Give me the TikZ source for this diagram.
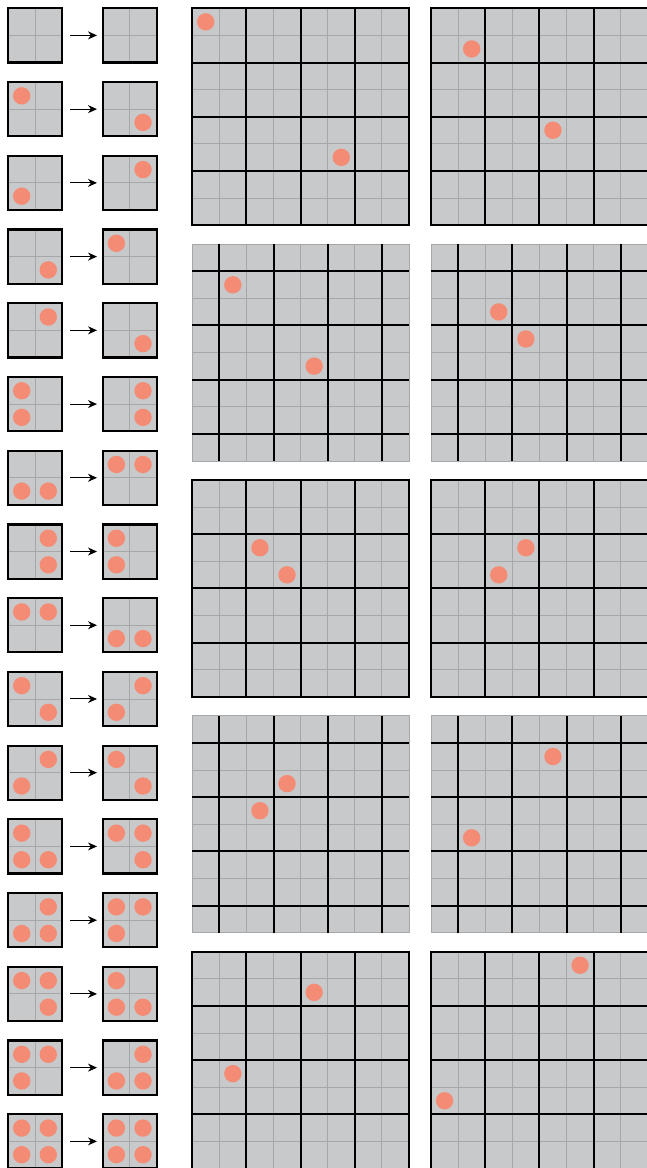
\documentclass[tikz,border=0pt]{standalone}
\usetikzlibrary{arrows.meta}
\definecolor{cellgray}{HTML}{C8C9CB}
\definecolor{gridgray}{HTML}{A6A7A9}
\definecolor{ballred}{HTML}{F48C75}
\tikzset{
  blk/.style={rectangle, draw=black, line width=2.2pt, fill=cellgray,
    minimum size=54.2pt, inner sep=0pt, outer sep=0pt},
  thinline/.style={draw=gridgray, line width=0.9pt},
  thickline/.style={draw=black, line width=2pt},
  ball/.style={fill=ballred},
  rulearrow/.style={-{Stealth[length=9pt,width=8pt]}, line width=1pt,
    shorten <=7.9pt, shorten >=5.6pt},
}
\def\smallballs#1#2#3#4\relax{%
  \ifnum#1=1 \fill[ball] (\bx+13.8,\by+13.8) circle (8.7pt);\fi
  \ifnum#2=1 \fill[ball] (\bx+40.4,\by+13.8) circle (8.7pt);\fi
  \ifnum#3=1 \fill[ball] (\bx+13.8,\by+40.4) circle (8.7pt);\fi
  \ifnum#4=1 \fill[ball] (\bx+40.4,\by+40.4) circle (8.7pt);\fi}
\newcommand\smallblock[4]{%
  \node[blk] (#1) at (#2+27.1,#3+27.1) {};
  \draw[thinline] (#2+27.1,#3+1.1) -- (#2+27.1,#3+53.1);
  \draw[thinline] (#2+1.1,#3+27.1) -- (#2+53.1,#3+27.1);
  \def\bx{#2}\def\by{#3}\edef\tmpbits{#4}%
  \expandafter\smallballs\tmpbits\relax}
\newcommand\biggrid[3]{%
  \fill[cellgray] (#1,#2) rectangle ++(216.8,216.8);
  \foreach \k in {1,...,7}{%
    \draw[thinline] (#1+\k*27.1,#2) -- ++(0,216.8);
    \draw[thinline] (#1,#2+\k*27.1) -- ++(216.8,0);}
  \ifnum#3=0
    \foreach \k in {2,4,6}{%
      \draw[thickline] (#1+\k*27.1,#2) -- ++(0,216.8);
      \draw[thickline] (#1,#2+\k*27.1) -- ++(216.8,0);}
    \draw[thickline] (#1,#2) rectangle ++(216.8,216.8);
  \else
    \draw[thinline] (#1,#2) rectangle ++(216.8,216.8);
    \foreach \k in {1,3,5,7}{%
      \draw[thickline] (#1+\k*27.1,#2) -- ++(0,216.8);
      \draw[thickline] (#1,#2+\k*27.1) -- ++(216.8,0);}
  \fi}
\newcommand\bigball[4]{\fill[ball] (#1+#3*27.1+13.55,#2+#4*27.1+13.55) circle (8.7pt);}
\begin{document}
\begin{tikzpicture}[x=1pt,y=-1pt]
\path[fill=white,use as bounding box] (0,0) rectangle (647,1168);
% rule table
\foreach \i/\a/\b in {1/0000/0000,2/1000/0001,3/0010/0100,4/0001/1000,
  5/0100/0001,6/1010/0101,7/0011/1100,8/0101/1010,9/1100/0011,
  10/1001/0110,11/0110/1001,12/1011/1101,13/0111/1110,14/1101/1011,
  15/1110/0111,16/1111/1111}{%
  \pgfmathsetmacro\yy{8.3+73.73*(\i-1)}
  \smallblock{L\i}{7.9}{\yy}{\a}
  \smallblock{R\i}{102.6}{\yy}{\b}
  \draw[rulearrow] (L\i.east) -- (R\i.west);
}
% evolution grids
\def\xl{192.2}\def\xr{431}
\biggrid{\xl}{8.3}{0}
\bigball{\xl}{8.3}{0}{0}\bigball{\xl}{8.3}{5}{5}
\biggrid{\xr}{8.3}{0}
\bigball{\xr}{8.3}{1}{1}\bigball{\xr}{8.3}{4}{4}
\biggrid{\xl}{244.15}{1}
\bigball{\xl}{244.15}{1}{1}\bigball{\xl}{244.15}{4}{4}
\biggrid{\xr}{244.15}{1}
\bigball{\xr}{244.15}{2}{2}\bigball{\xr}{244.15}{3}{3}
\biggrid{\xl}{480}{0}
\bigball{\xl}{480}{2}{2}\bigball{\xl}{480}{3}{3}
\biggrid{\xr}{480}{0}
\bigball{\xr}{480}{3}{2}\bigball{\xr}{480}{2}{3}
\biggrid{\xl}{715.85}{1}
\bigball{\xl}{715.85}{3}{2}\bigball{\xl}{715.85}{2}{3}
\biggrid{\xr}{715.85}{1}
\bigball{\xr}{715.85}{4}{1}\bigball{\xr}{715.85}{1}{4}
\biggrid{\xl}{951.7}{0}
\bigball{\xl}{951.7}{4}{1}\bigball{\xl}{951.7}{1}{4}
\biggrid{\xr}{951.7}{0}
\bigball{\xr}{951.7}{5}{0}\bigball{\xr}{951.7}{0}{5}
\end{tikzpicture}
\end{document}
